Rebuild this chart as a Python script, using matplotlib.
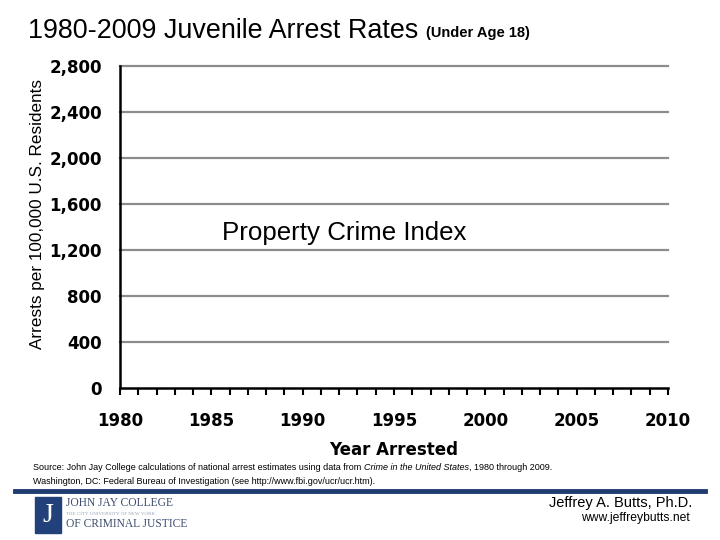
import matplotlib
matplotlib.use("Agg")
import matplotlib.pyplot as plt
from matplotlib.patches import Rectangle
from matplotlib.lines import Line2D

# Data (chart shows no plotted series)
years = list(range(1980, 2011))
x_tick_labels = [1980, 1985, 1990, 1995, 2000, 2005, 2010]
y_ticks = [0, 400, 800, 1200, 1600, 2000, 2400, 2800]
y_tick_labels = ["0", "400", "800", "1,200", "1,600", "2,000", "2,400", "2,800"]
panel_label = "Property Crime Index"

narrow = ["Liberation Sans", "DejaVu Sans"]
bold_font = ["DejaVu Sans"]
serif = ["Liberation Serif", "DejaVu Serif"]

fig = plt.figure(figsize=(7.2, 5.4), dpi=100)
ax = fig.add_axes([120/720, 1-388/540, (668-120)/720, (388-66)/540])

ax.set_xlim(1980, 2010)
ax.set_ylim(0, 2800)
ax.set_yticks(y_ticks)
ax.set_yticklabels(y_tick_labels, fontfamily=bold_font, fontweight="bold", fontsize=12)
ax.set_xticks(x_tick_labels)
ax.set_xticklabels([str(v) for v in x_tick_labels], fontfamily=bold_font, fontweight="bold", fontsize=12)
ax.set_xticks(years, minor=True)
ax.tick_params(axis="x", which="both", direction="out", length=5, width=1.5, color="black", pad=12)
ax.tick_params(axis="y", which="both", length=0, pad=13)

for v in y_ticks[1:]:
    ax.axhline(v, color="#8c8c8c", lw=1.6, zorder=1, clip_on=False)

for s in ["top", "right"]:
    ax.spines[s].set_visible(False)
ax.spines["left"].set_linewidth(1.8)
ax.spines["bottom"].set_linewidth(1.8)

ax.set_xlabel("Year Arrested", fontfamily=bold_font, fontweight="bold", fontsize=12, labelpad=8)
ax.set_ylabel("Arrests per 100,000 U.S. Residents", fontfamily=narrow, fontsize=12.3, labelpad=4)
ax.yaxis.set_label_coords(-0.137, 0.54)

ax.text(0.187, 0.481, panel_label, transform=ax.transAxes, fontfamily=narrow,
        fontsize=18.6, va="center", ha="left")

# Title
fig.text(28/720, 1-31/540, "1980-2009 Juvenile Arrest Rates", fontfamily=narrow,
         fontsize=19.4, va="center", ha="left")
fig.text(426/720, 1-33/540, "(Under Age 18)", fontfamily=narrow, fontsize=10.5,
         fontweight="bold", va="center", ha="left")

# Source
fs = 6.45
t0 = fig.text(33/720, 1-468/540,
              "Source: John Jay College calculations of national arrest estimates using data from",
              fontfamily=narrow, fontsize=fs, va="center", ha="left")
fig.text(33/720, 1-481/540,
         "Washington, DC: Federal Bureau of Investigation (see http://www.fbi.gov/ucr/ucr.htm).",
         fontfamily=narrow, fontsize=fs, va="center", ha="left")

fig.canvas.draw()
r = fig.canvas.get_renderer()
bb = t0.get_window_extent(r)
t1 = fig.text(bb.x1/720 + 0.004, 1-468/540, "Crime in the United States",
              fontfamily=narrow, fontsize=fs, style="italic", va="center", ha="left")
bb1 = t1.get_window_extent(r)
fig.text(bb1.x1/720, 1-468/540, ", 1980 through 2009.",
         fontfamily=narrow, fontsize=fs, va="center", ha="left")

# Blue divider
fig.add_artist(Line2D([15/720, 705/720], [1-491/540, 1-491/540], color="#1f3b70", lw=3.5))

# Logo
fig.add_artist(Rectangle((35/720, 1-533/540), 26/720, 36/540, color="#22417a"))
fig.text(48/720, 1-515/540, "J", color="white", fontfamily=serif,
         fontsize=20, ha="center", va="center")
fig.text(66/720, 1-503/540, "JOHN JAY COLLEGE", color="#3d4d70",
         fontfamily=serif, fontsize=8.3, ha="left", va="center")
fig.text(66/720, 1-514/540, "THE CITY UNIVERSITY OF NEW YORK", color="#9aa3b5",
         fontfamily=serif, fontsize=3.6, ha="left", va="center")
fig.text(66/720, 1-524/540, "OF CRIMINAL JUSTICE", color="#3d4d70",
         fontfamily=serif, fontsize=8.3, ha="left", va="center")

# Author
fig.text(692/720, 1-503/540, "Jeffrey A. Butts, Ph.D.", fontfamily=narrow, fontsize=10.5,
         ha="right", va="center")
fig.text(690/720, 1-518/540, "www.jeffreybutts.net", fontfamily=narrow, fontsize=8.7,
         ha="right", va="center")

fig.savefig("out.png", dpi=100)
